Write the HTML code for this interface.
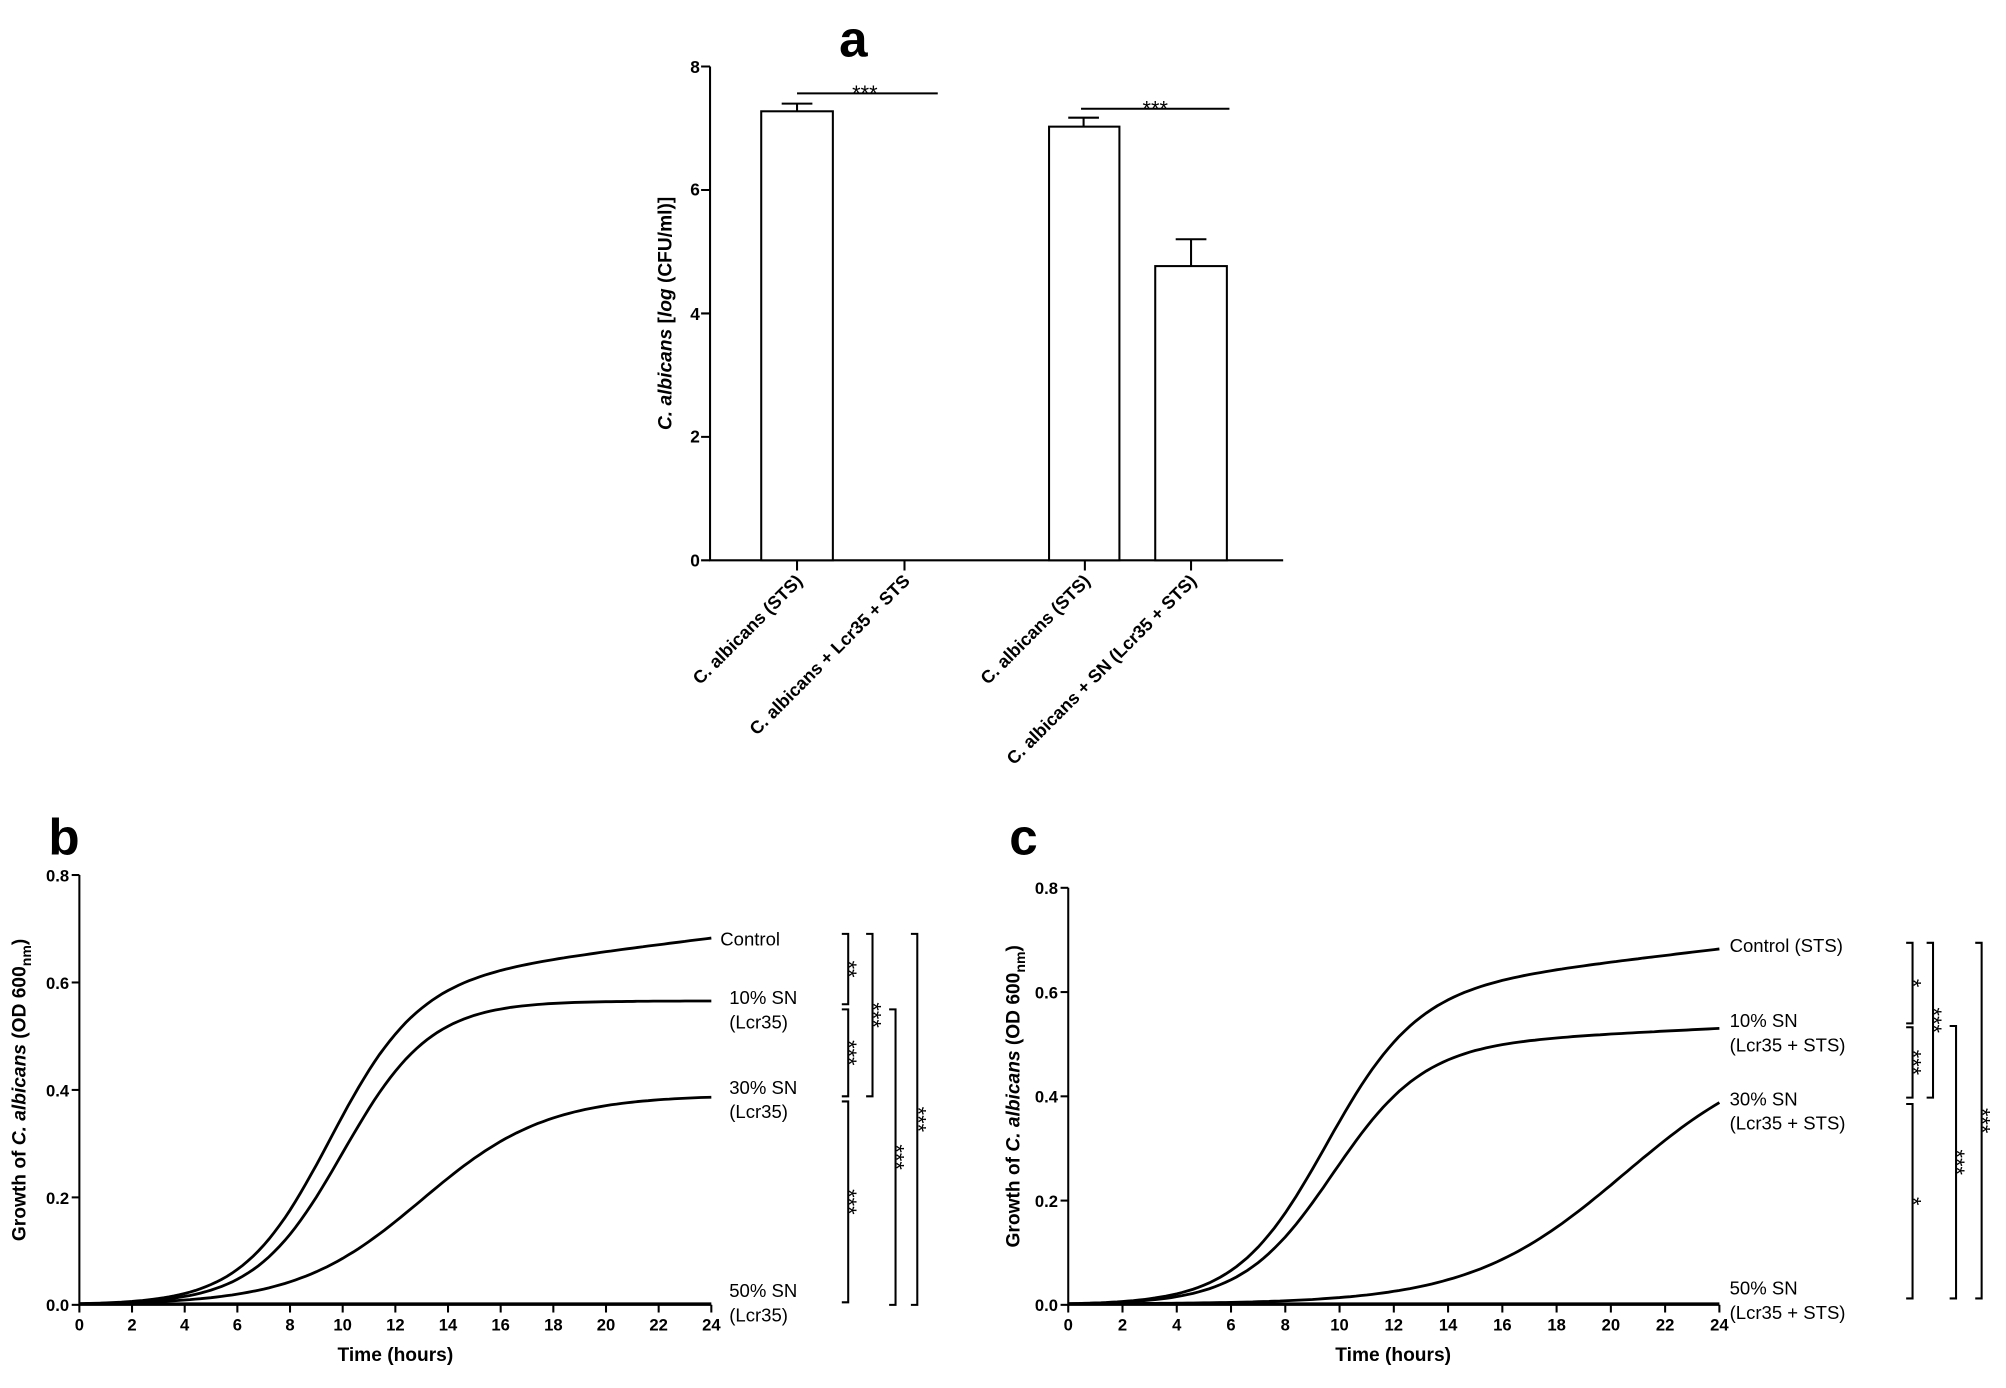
<!DOCTYPE html>
<html><head><meta charset="utf-8"><style>
html,body{margin:0;padding:0;background:#fff;}
svg{display:block;}
text{font-family:"Liberation Sans",Arial,sans-serif;fill:#000;}
.t{font-size:13px;font-weight:bold;}
.st{font-size:17px;}
.lab{font-size:14.5px;}
.ax{font-size:15px;font-weight:bold;}
</style></head><body>
<svg id="s" width="2006" height="1388" viewBox="0 0 1568 1085" xmlns="http://www.w3.org/2000/svg">
<g stroke="#000" stroke-width="1.6" fill="none">
<path d="M555 52V438H1003"/>
<path d="M548 52H555M548 148.5H555M548 245H555M548 341.5H555M548 438H555"/>
<path d="M623 438V446M707 438V446M848 438V446M931 438V446"/>
<rect x="595" y="87" width="56" height="351" fill="#fff"/>
<rect x="820" y="99" width="55" height="339" fill="#fff"/>
<rect x="903" y="208" width="56" height="230" fill="#fff"/>
<path d="M623 87V81M611 81H635M847 99V92M835 92H859M931 208V187M919 187H943"/>
<path d="M623 73H733M845 85H961"/>
</g>
<text x="676" y="79" class="st" text-anchor="middle">***</text>
<text x="903" y="91" class="st" text-anchor="middle">***</text>
<g class="t" text-anchor="end" style="font-size:13.5px">
<text x="547" y="57">8</text><text x="547" y="153">6</text><text x="547" y="250">4</text><text x="547" y="346">2</text><text x="547" y="443">0</text>
</g>
<text x="667" y="44" style="font-size:40px;font-weight:bold" text-anchor="middle">a</text>
<text transform="translate(525,245) rotate(-90)" text-anchor="middle" class="ax"><tspan font-style="italic">C. albicans</tspan> [<tspan font-style="italic">log</tspan> (CFU/ml)]</text>
<g class="t" text-anchor="end" style="font-size:14px">
<text transform="translate(628,455) rotate(-45)">C. albicans (STS)</text>
<text transform="translate(712,455) rotate(-45)">C. albicans + Lcr35 + STS</text>
<text transform="translate(853,455) rotate(-45)">C. albicans (STS)</text>
<text transform="translate(936,455) rotate(-45)">C. albicans + SN (Lcr35 + STS)</text>
</g>

<text x="50" y="668" style="font-size:40px;font-weight:bold" text-anchor="middle">b</text>
<text x="800" y="668" style="font-size:40px;font-weight:bold" text-anchor="middle">c</text>
<g stroke="#000" stroke-width="1.6" fill="none">
<path d="M62 684V1020H556"/>
<path d="M835 694V1020H1344"/>
<g id="br"></g>
<g id="curves" stroke-width="2.2"></g>
</g>
<g id="txt"></g>
<text transform="translate(20,852) rotate(-90)" text-anchor="middle" class="ax">Growth of <tspan font-style="italic">C. albicans</tspan> (OD 600<tspan font-size="11" dy="4">nm</tspan><tspan dy="-4">)</tspan></text>
<text transform="translate(797,857) rotate(-90)" text-anchor="middle" class="ax">Growth of <tspan font-style="italic">C. albicans</tspan> (OD 600<tspan font-size="11" dy="4">nm</tspan><tspan dy="-4">)</tspan></text>
<text x="309" y="1064" text-anchor="middle" class="ax">Time (hours)</text>
<text x="1089" y="1064" text-anchor="middle" class="ax">Time (hours)</text>
<g class="lab">
<text x="563" y="739">Control</text>
<text x="570" y="785">10% SN</text><text x="570" y="804">(Lcr35)</text>
<text x="570" y="855">30% SN</text><text x="570" y="874">(Lcr35)</text>
<text x="570" y="1014">50% SN</text><text x="570" y="1033">(Lcr35)</text>
<text x="1352" y="744">Control (STS)</text>
<text x="1352" y="803">10% SN</text><text x="1352" y="822">(Lcr35 + STS)</text>
<text x="1352" y="864">30% SN</text><text x="1352" y="883">(Lcr35 + STS)</text>
<text x="1352" y="1012">50% SN</text><text x="1352" y="1031">(Lcr35 + STS)</text>
</g>
</svg>
<script>
var NS="http://www.w3.org/2000/svg";
function el(p,t,a,txt){var e=document.createElementNS(NS,t);for(var k in a)e.setAttribute(k,a[k]);if(txt)e.textContent=txt;p.appendChild(e);return e;}
var tx=document.getElementById('txt'),cv=document.getElementById('curves'),br=document.getElementById('br');
function panel(x0,x1,y0,ytop,curves){
 var sx=(x1-x0)/24,sy=(y0-ytop)/0.8;
 for(var h=0;h<=24;h+=2){el(br,'path',{d:'M'+(x0+h*sx)+' '+y0+'V'+(y0+6)});el(tx,'text',{x:x0+h*sx,y:y0+20,'text-anchor':'middle','class':'t'},String(h));}
 for(var i=0;i<=4;i++){var y=y0-i*0.2*sy;el(br,'path',{d:'M'+(x0-6)+' '+y+'H'+x0});el(tx,'text',{x:x0-8,y:y+5,'text-anchor':'end','class':'t'},(i*0.2).toFixed(1));}
 curves.forEach(function(f){var d='';for(var t=0;t<=24.001;t+=0.2){var v=f(t);d+=(t==0?'M':'L')+(x0+t*sx).toFixed(1)+' '+(y0-v*sy).toFixed(1);}el(cv,'path',{d:d});});
}
function lg(A,t0,k,s){var b=A/(1+Math.exp(k*t0));return function(t){return (A/(1+Math.exp(-k*(t-t0)))-b)*(1+(s||0)*(t-12))+0.002;};}
panel(62,556,1020,684,[lg(0.61,9.4,0.6,0.01),lg(0.565,10,0.6),lg(0.39,13,0.42),function(){return 0.002;}]);
panel(835,1344,1020,694,[lg(0.61,9.4,0.6,0.01),lg(0.5,9.7,0.6,0.005),lg(0.5,20.5,0.35),function(){return 0.002;}]);
function brk(x,a,b,s){el(br,'path',{d:'M'+(x-5)+' '+a+'H'+x+'V'+b+'H'+(x-5)});var m=(a+b)/2;el(tx,'text',{transform:'translate('+(x-5.5)+','+m+') rotate(90)','text-anchor':'middle','class':'st'},s);}
brk(663,730,785,'**');brk(663,789,857,'***');brk(663,861,1018,'***');
brk(682,730,857,'***');brk(700,789,1020,'***');brk(717,730,1020,'***');
brk(1495,737,800,'*');brk(1495,803,858,'***');brk(1495,863,1015,'*');
brk(1511,737,858,'***');brk(1529,802,1015,'***');brk(1549,737,1015,'***');
</script>
</body></html>
